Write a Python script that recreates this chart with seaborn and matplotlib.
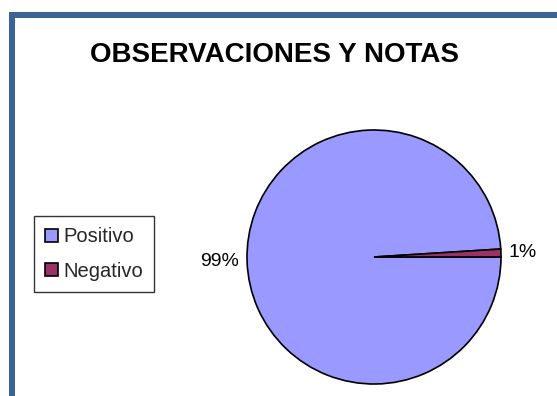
import matplotlib
matplotlib.use("Agg")
import matplotlib.pyplot as plt
import seaborn as sns
from matplotlib.patches import Rectangle

categories = ["Positivo", "Negativo"]
values = [99, 1]
pct_labels = ["99%", "1%"]
colors = ["#9999FF", "#993366"]
title = "OBSERVACIONES Y NOTAS"

sns.set_theme(style="white")
plt.rcParams['font.family'] = ['Liberation Sans', 'DejaVu Sans']

W, H = 557, 396
fig = plt.figure(figsize=(W / 100, H / 100), dpi=100)
fig.patch.set_facecolor("white")

# blue frame (left and top)
border = "#3A6496"
fig.add_artist(Rectangle((9 / W, -0.1), 6 / W, 1.1 - 12 / H,
                         transform=fig.transFigure, facecolor=border, edgecolor="none"))
fig.add_artist(Rectangle((9 / W, 1 - 18 / H), 1.0, 6 / H,
                         transform=fig.transFigure, facecolor=border, edgecolor="none"))

fig.text(275 / W, 1 - 55 / H, title, ha="center", va="center",
         fontsize=20, fontweight="bold", color="black")

cx, cy, r = 374, 257, 127
ax = fig.add_axes([(cx - r) / W, (H - cy - r) / H, 2 * r / W, 2 * r / H])
wedges, texts = ax.pie(values, colors=colors, startangle=0, counterclock=False,
                       labels=pct_labels, labeldistance=1.06,
                       wedgeprops=dict(edgecolor="black", linewidth=1.2),
                       textprops=dict(fontsize=14, color="black"))
ax.set_xlim(-1, 1)
ax.set_ylim(-1, 1)
ax.set_aspect("auto")
ax.axis("off")

leg = fig.legend(wedges, categories, loc="center left",
                 bbox_to_anchor=(34 / W, 1 - 254 / H), frameon=True,
                 fancybox=False, edgecolor="black", fontsize=14.5,
                 handlelength=0.65, handleheight=0.65, handletextpad=0.25,
                 borderpad=0.55, labelspacing=0.75, borderaxespad=0)
leg.get_frame().set_linewidth(1.0)

fig.savefig("out.png", dpi=100)
